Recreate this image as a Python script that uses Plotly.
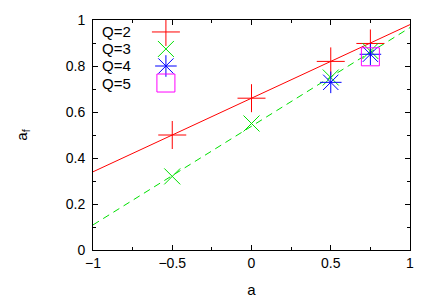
import plotly.graph_objects as go

# data
a_q2 = [-0.5, 0.0, 0.5, 0.75]
af_q2 = [0.50, 0.66, 0.82, 0.898]
a_q3 = [-0.5, 0.0, 0.5, 0.75]
af_q3 = [0.32, 0.55, 0.75, 0.865]
a_q4 = [0.5, 0.75]
af_q4 = [0.729, 0.851]
a_q5 = [0.75]
af_q5 = [0.84]
fit_x = [-1.0, 1.0]
fit_q2 = [0.340, 0.980]
fit_q3 = [0.109, 0.967]
legend_labels = ["Q=2", "Q=3", "Q=4", "Q=5"]

RED = "#ff0000"
GREEN = "#00e000"
BLUE = "#0000ff"
MAG = "#ff00ff"
FONT = "Liberation Sans"


def mk(symbol, size, color):
    return dict(symbol=symbol, size=size, color=color, line=dict(color=color, width=1))


fig = go.Figure()
fig.add_trace(go.Scatter(x=fit_x, y=fit_q2, mode="lines", line=dict(color=RED, width=1)))
fig.add_trace(go.Scatter(x=fit_x, y=fit_q3, mode="lines", line=dict(color=GREEN, width=1, dash="7px,5px")))
fig.add_trace(go.Scatter(x=a_q2, y=af_q2, mode="markers", marker=mk("cross-thin-open", 20, RED)))
fig.add_trace(go.Scatter(x=a_q3, y=af_q3, mode="markers", marker=mk("x-thin-open", 16, GREEN)))
fig.add_trace(go.Scatter(x=a_q4, y=af_q4, mode="markers", marker=mk("asterisk-open", 18, BLUE)))
fig.add_trace(go.Scatter(x=a_q5, y=af_q5, mode="markers", marker=mk("square-open", 18, MAG)))

# legend key samples on a hidden overlay axis (layout positions)
leg_y = [0.948, 0.874, 0.80, 0.726]
leg_sym = ["cross-thin-open", "x-thin-open", "asterisk-open", "square-open"]
leg_col = [RED, GREEN, BLUE, MAG]
leg_size = [20, 16, 18, 18]
for yy, s, c, sz in zip(leg_y, leg_sym, leg_col, leg_size):
    fig.add_trace(go.Scatter(x=[0.23], y=[yy], xaxis="x2", yaxis="y2", mode="markers",
                             marker=mk(s, sz, c)))
for yy, t in zip(leg_y, legend_labels):
    fig.add_annotation(x=0.022, y=yy, xref="paper", yref="paper", text=t, showarrow=False,
                       xanchor="left", yanchor="middle", font=dict(family=FONT, size=15, color="black"))

axis_common = dict(showgrid=False, zeroline=False, showline=True, linecolor="black", linewidth=1,
                   mirror="allticks", ticks="inside", ticklen=5, tickcolor="black", automargin=False,
                   tickfont=dict(family=FONT, size=14, color="black"))
fig.update_layout(
    width=436, height=305, showlegend=False,
    margin=dict(l=85, r=34, t=12, b=63),
    paper_bgcolor="white", plot_bgcolor="white",
    xaxis=dict(range=[-1, 1], dtick=0.5, tick0=-1,
               minor=dict(dtick=0.25, ticks="inside", ticklen=3, tickcolor="black"),
               title=dict(text="a", font=dict(family=FONT, size=15, color="black"), standoff=14),
               **axis_common),
    yaxis=dict(range=[0, 1], dtick=0.2, tick0=0, ticklabelstandoff=4,
               minor=dict(dtick=0.1, ticks="inside", ticklen=3, tickcolor="black"),
               title=dict(text="a<sub>f</sub>", font=dict(family=FONT, size=15, color="black"), standoff=34),
               **axis_common),
    xaxis2=dict(range=[0, 1], overlaying="x", visible=False),
    yaxis2=dict(range=[0, 1], overlaying="y", visible=False),
)
fig.write_html("out.html")
